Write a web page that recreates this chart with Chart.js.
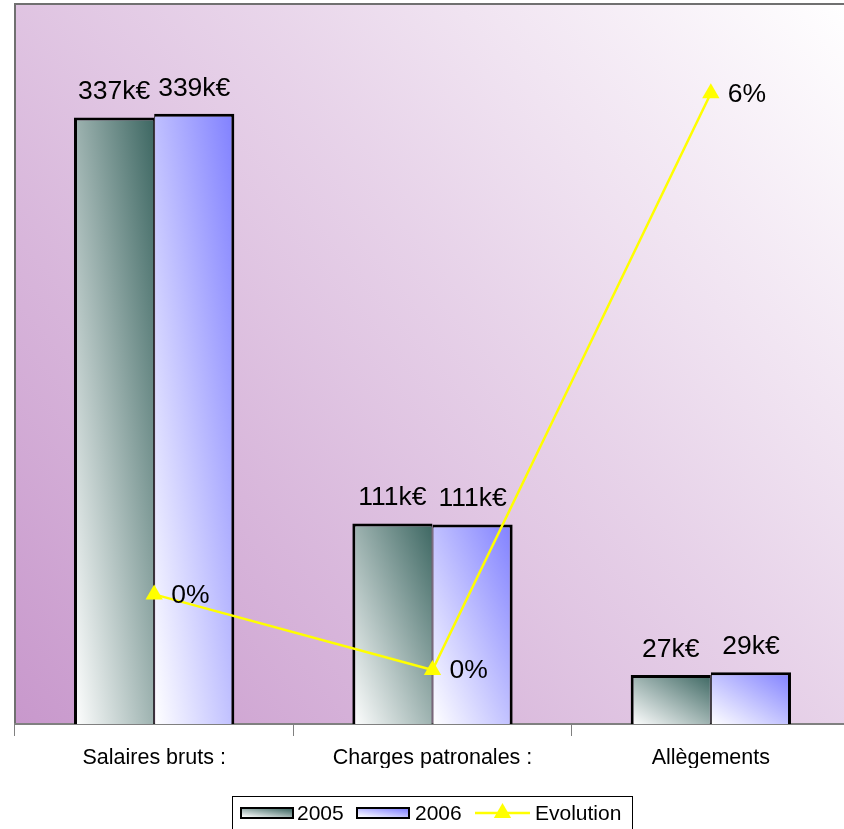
<!DOCTYPE html>
<html><head><meta charset="utf-8">
<script src="https://cdn.jsdelivr.net/npm/chart.js@4"></script>
<style>
html,body{margin:0;padding:0;background:#fff;overflow:hidden;}
canvas{display:block;}
</style></head><body>
<canvas id="c" width="870" height="829"></canvas>
<script>
// ---- data ----
const categories = ['Salaires bruts :', 'Charges patronales :', 'Allègements'];
const seriesLabels = ['2005', '2006', 'Evolution'];
const values2005 = [337.0, 111.4, 27.2];
const values2006 = [339.0, 110.9, 28.7];
const evolution = [0.0044, -0.0044, 0.0628];
const valueAxisMin = 0, valueAxisMax = 400;
const evolutionAxisMin = -0.0107, evolutionAxisMax = 0.0732;

const FONT = '"Liberation Sans", Arial, Helvetica, sans-serif';
Chart.defaults.font.family = FONT;
Chart.defaults.color = '#000';

function diagGradient(ctx, l, t, w, h, c0, c1) {
  const gx = 1 / (2 * w), gy = -1 / (2 * h);
  const n = gx * gx + gy * gy;
  const x0 = l, y0 = t + h;
  const g = ctx.createLinearGradient(x0, y0, x0 + gx / n, y0 + gy / n);
  g.addColorStop(0, c0);
  g.addColorStop(1, c1);
  return g;
}

const backgroundPlugin = {
  id: 'plotBg',
  beforeDraw(chart) {
    const { ctx, chartArea: a } = chart;
    ctx.save();
    const g = ctx.createLinearGradient(a.left, a.bottom, a.right, a.top);
    g.addColorStop(0, '#c898cc');
    g.addColorStop(1, '#ffffff');
    ctx.fillStyle = g;
    ctx.fillRect(a.left, a.top, a.right - a.left, a.bottom - a.top);
    ctx.strokeStyle = '#707070';
    ctx.lineWidth = 2;
    ctx.beginPath();
    ctx.moveTo(a.left, a.bottom);
    ctx.lineTo(a.left, a.top);
    ctx.lineTo(a.right, a.top);
    ctx.lineTo(a.right, a.bottom);
    ctx.stroke();
    ctx.restore();
  }
};

const barGradientPlugin = {
  id: 'barGrad',
  beforeDatasetsDraw(chart) {
    const ctx = chart.ctx;
    chart.data.datasets.forEach((ds, di) => {
      if (ds.type !== 'bar') return;
      chart.getDatasetMeta(di).data.forEach(el => {
        const p = el.getProps(['x', 'y', 'base', 'width'], true);
        const left = p.x - p.width / 2;
        const top = Math.min(p.y, p.base), bottom = Math.max(p.y, p.base);
        el.options.backgroundColor = diagGradient(ctx, left, top, p.width, Math.max(1, bottom - top), ds.gradFrom, ds.gradTo);
      });
    });
  }
};

const labelPlugin = {
  id: 'valueLabels',
  afterDatasetsDraw(chart) {
    const c = chart.ctx;
    c.save();
    c.fillStyle = '#000';
    c.font = '26.5px ' + FONT;
    chart.data.datasets.forEach((ds, di) => {
      const meta = chart.getDatasetMeta(di);
      meta.data.forEach((el, i) => {
        const v = ds.data[i];
        if (ds.type === 'bar') {
          c.textAlign = 'center';
          c.textBaseline = 'alphabetic';
          c.fillText(Math.round(v) + 'k€', el.x, el.y - 18);
        } else {
          const p = Math.round(v * 100);
          c.textAlign = 'left';
          c.textBaseline = 'middle';
          c.fillText(String(p) + '%', el.x + 17, el.y + 1);
        }
      });
    });
    c.restore();
  }
};

const legendPlugin = {
  id: 'customLegend',
  afterDraw(chart) {
    const ctx = chart.ctx, a = chart.chartArea;
    const dsets = chart.data.datasets;
    const bar05 = dsets[1], bar06 = dsets[2], line = dsets[0];
    const boxW = 400;
    const L = Math.round((a.left + a.right) / 2 - boxW / 2) - 1;
    const T = chart.height - 33;
    const cy = T + 17;
    ctx.save();
    ctx.fillStyle = '#ffffff';
    ctx.fillRect(L + 0.5, T + 0.5, boxW, 40);
    ctx.strokeStyle = '#000';
    ctx.lineWidth = 1;
    ctx.strokeRect(L + 0.5, T + 0.5, boxW, 40);
    ctx.font = '21px ' + FONT;
    ctx.textAlign = 'left';
    ctx.textBaseline = 'middle';
    const drawSwatch = (x, ds) => {
      ctx.fillStyle = '#000';
      ctx.fillRect(x, cy - 6, 54, 12);
      ctx.fillStyle = diagGradient(ctx, x + 2, cy - 4, 50, 8, ds.gradFrom, ds.gradTo);
      ctx.fillRect(x + 2, cy - 4, 50, 8);
      ctx.fillStyle = '#000';
    };
    drawSwatch(L + 8, bar05);
    ctx.fillText(bar05.label, L + 65, cy + 1);
    drawSwatch(L + 124, bar06);
    ctx.fillText(bar06.label, L + 183, cy + 1);
    ctx.strokeStyle = line.borderColor;
    ctx.lineWidth = 2.5;
    ctx.beginPath();
    ctx.moveTo(L + 243, cy);
    ctx.lineTo(L + 298, cy);
    ctx.stroke();
    ctx.fillStyle = line.borderColor;
    ctx.beginPath();
    const r = 10, tx = L + 270.5;
    ctx.moveTo(tx, cy - r);
    ctx.lineTo(tx + r * 0.866, cy + r / 2);
    ctx.lineTo(tx - r * 0.866, cy + r / 2);
    ctx.closePath();
    ctx.fill();
    ctx.fillStyle = '#000';
    ctx.fillText(line.label, L + 303, cy + 1);
    ctx.restore();
  }
};

new Chart(document.getElementById('c'), {
  data: {
    labels: categories,
    datasets: [
      {
        type: 'line', label: seriesLabels[2], data: evolution, yAxisID: 'y1',
        borderColor: '#ffff00', backgroundColor: '#ffff00', borderWidth: 2.5, tension: 0,
        pointStyle: 'triangle', pointRadius: 10, pointBorderWidth: 0,
        pointBackgroundColor: '#ffff00', pointBorderColor: '#ffff00', order: 0, clip: false
      },
      {
        type: 'bar', label: seriesLabels[0], data: values2005, yAxisID: 'y',
        borderColor: '#000', borderWidth: { top: 3, left: 3, right: 1, bottom: 0 }, borderSkipped: 'start',
        backgroundColor: () => '#cccccc', gradFrom: '#ffffff', gradTo: '#3d6762',
        categoryPercentage: 0.576, barPercentage: 1, order: 1
      },
      {
        type: 'bar', label: seriesLabels[1], data: values2006, yAxisID: 'y',
        borderColor: '#000', borderWidth: { top: 3, left: 1, right: 3, bottom: 0 }, borderSkipped: 'start',
        backgroundColor: () => '#ccccff', gradFrom: '#ffffff', gradTo: '#8080ff',
        categoryPercentage: 0.576, barPercentage: 1, order: 2
      }
    ]
  },
  options: {
    responsive: false,
    animation: false,
    layout: { autoPadding: false, padding: { left: 15, top: 4, right: 20, bottom: 61 } },
    plugins: { legend: { display: false }, tooltip: { enabled: false } },
    scales: {
      x: {
        type: 'category',
        offset: true,
        grid: { display: true, drawOnChartArea: false, drawTicks: true, tickLength: 12, color: '#808080', offset: true },
        border: { display: true, color: '#808080', width: 2 },
        ticks: { font: { size: 21.5 }, color: '#000', padding: 9, maxRotation: 0, autoSkip: false },
        afterFit(scale) { scale.height = 44; }
      },
      y: { display: false, min: valueAxisMin, max: valueAxisMax },
      y1: { display: false, min: evolutionAxisMin, max: evolutionAxisMax, position: 'right' }
    }
  },
  plugins: [backgroundPlugin, barGradientPlugin, labelPlugin, legendPlugin]
});
</script>
</body></html>
